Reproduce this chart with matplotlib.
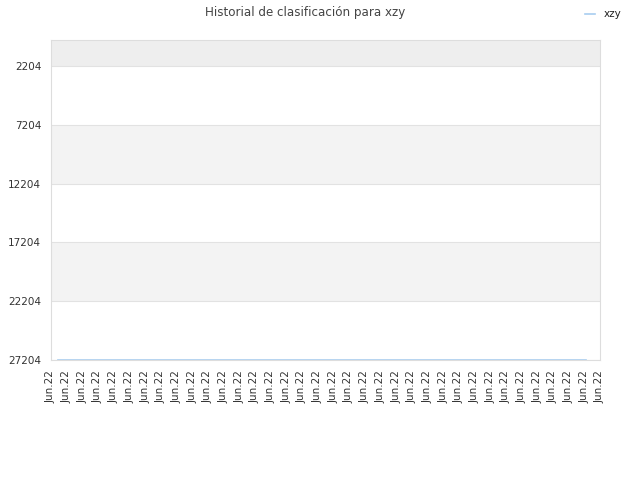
import matplotlib
matplotlib.use("Agg")
import matplotlib.pyplot as plt

# Data
tick_labels = ["Jun.22"] * 36
rank_x = [0.45, 6.0, 12.0, 18.0, 24.0, 30.0, 34.1]
rank_values = [27204, 27204, 27204, 27204, 27204, 27204, 27204]
y_ticks = [2204, 7204, 12204, 17204, 22204, 27204]

fig = plt.figure(figsize=(6.4, 4.8), dpi=100)
ax = fig.add_axes([51 / 640, 1 - 360 / 480, 549 / 640, 320 / 480])

# alternating horizontal bands
band_edges = [0] + y_ticks
band_colors = ["#eeeeee", "#ffffff", "#f3f3f3", "#ffffff", "#f3f3f3", "#ffffff"]
for i in range(len(band_edges) - 1):
    ax.axhspan(band_edges[i], band_edges[i + 1], color=band_colors[i], zorder=0, lw=0)

for y in y_ticks:
    ax.axhline(y, color="#e2e2e2", lw=0.8, zorder=1)

ax.plot(rank_x, rank_values, color="#a8cdf0", lw=1.2, zorder=2, label="xzy")

ax.set_ylim(27204, 0)
ax.set_xlim(0, len(tick_labels) - 1)
ax.set_yticks(y_ticks)
ax.set_yticklabels([str(v) for v in y_ticks], fontsize=7.5, color="#333333")
ax.set_xticks(range(len(tick_labels)))
ax.set_xticklabels(tick_labels, rotation=90, fontsize=7.5, color="#333333")
ax.tick_params(length=0, pad=7)

for s in ax.spines.values():
    s.set_color("#dddddd")
    s.set_linewidth(0.8)

fig.text(0.477, 0.974, "Historial de clasificación para xzy", ha="center", va="center",
         fontsize=8.6, color="#444444")

leg = fig.legend(loc="upper right", bbox_to_anchor=(0.985, 1.0), frameon=False,
                 fontsize=7.5, handlelength=1.0, handletextpad=0.8)
for t in leg.get_texts():
    t.set_color("#222222")

fig.savefig("out.png", dpi=100)
